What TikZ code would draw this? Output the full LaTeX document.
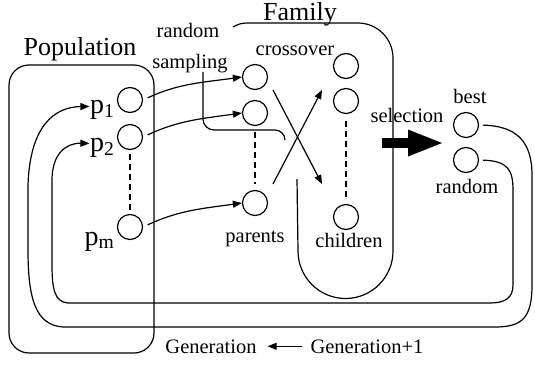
\documentclass[tikz,border=0pt]{standalone}
\usepackage{fontspec}
\setmainfont{Liberation Serif}
\usetikzlibrary{positioning,arrows.meta}

\begin{document}
\begin{tikzpicture}[x=1pt,y=1pt,line width=1.2pt,
    dot/.style={draw,circle,minimum size=25pt,inner sep=0pt},
    biglabel/.style={font=\fontsize{26}{30}\selectfont,inner sep=0pt,anchor=base},
    smalllabel/.style={font=\fontsize{20.5}{24}\selectfont,inner sep=0pt,anchor=base},
    plabel/.style={font=\fontsize{28}{32}\selectfont,inner sep=0pt,anchor=base east},
    tip/.style={-{Triangle[length=9pt,width=7pt]}},
    dashline/.style={dash pattern=on 6pt off 4pt}]
    \useasboundingbox (0,0) rectangle (535,-364);

    % the population
    \draw[rounded corners=20pt] (9,-65) rectangle (154,-353);
    \node[biglabel] (poptitle) at (80,-55) {Population};

    % all the individuals
    \foreach \n/\x/\y in {c1/130/100,c2/130/137,cm/130/227,%
                          pa1/255/77,pa2/255/113,pa3/255/203,%
                          ch1/346/66,ch2/346/101,ch3/346/217,%
                          bestc/466/125,rndc/466/160} {
      \node[dot] (\n) at (\x,-\y) {};
    };

    \node[plabel] (p1) at ([xshift=-2pt,yshift=-13pt]c1.west) {p\textsubscript{1}};
    \node[plabel] (p2) at ([xshift=-2pt,yshift=-14pt]c2.west) {p\textsubscript{2}};
    \node[plabel] (pm) at ([xshift=-2pt,yshift=-18pt]cm.west) {p\textsubscript{m}};

    % the family, drawn in two pieces
    \node[biglabel] (famtitle) at (300,-20.5) {Family};
    \draw (203,-72) -- (203,-119) arc[start angle=180,end angle=270,radius=11]
      -- (275,-130) arc[start angle=90,end angle=0,radius=10];
    \draw (297,-179) -- (298,-251) arc[start angle=180,end angle=360,radius=47.5]
      -- (393,-58) arc[start angle=0,end angle=90,radius=35]
      -- (248,-23) to[out=180,in=30] (233,-27);

    \node[smalllabel] (rs1) at (188,-37) {random};
    \node[smalllabel] (rs2) at (190,-68) {sampling};
    \node[smalllabel] (xover) at (295,-55) {crossover};
    \node[smalllabel] (parents) at (255,-242) {parents};
    \node[smalllabel] (children) at (349,-247) {children};
    \node[smalllabel] (selection) at (407,-122) {selection};
    \node[smalllabel] (best) at (470,-103) {best};
    \node[smalllabel] (random) at (467,-193) {random};
    \node[smalllabel] (gen) at (211,-353) {Generation};
    \node[smalllabel] (gennext) at (367,-353) {Generation+1};

    % dashed columns
    \draw[dashline,shorten <=4pt,shorten >=3pt] (c2.south) -- (cm.north);
    \draw[dashline,shorten <=6pt,shorten >=6pt] (pa2.south) -- (pa3.north);
    \draw[dashline,shorten <=7pt,shorten >=6pt] (ch2.south) -- (ch3.north);

    % random sampling
    \draw[tip,shorten <=5pt] (c1.east) to[out=25,in=188] (pa1.west);
    \draw[tip,shorten <=5pt] (c2.east) to[out=25,in=188] (pa2.west);
    \draw[tip,shorten <=5pt] (cm.east) to[out=25,in=188] (pa3.west);

    % crossover
    \coordinate (xtl) at (273,-90);
    \coordinate (xtr) at (322,-90);
    \coordinate (xbl) at (273,-184);
    \coordinate (xbr) at (322,-184);
    \draw[tip] (xtl) -- (xbr);
    \draw[tip] (xbl) -- (xtr);

    % selection
    \coordinate (selA) at (382,-143);
    \coordinate (selB) at (442,-143);
    \draw[line width=10pt,-{Triangle[length=34pt,width=27pt,line width=0pt]}] (selA) -- (selB);

    % back to the population
    \draw[tip,shorten <=4pt] (bestc.east) .. controls (515,-126) and (532,-140) .. (532,-175)
      -- (532,-285) .. controls (532,-318) and (522,-327) .. (495,-327)
      -- (63,-327) .. controls (36,-325) and (28,-300) .. (28,-250)
      -- (28,-185) .. controls (30,-125) and (55,-107) .. ([yshift=3pt]p1.west);
    \draw[tip,shorten <=4pt] (rndc.east) .. controls (508,-161) and (513,-170) .. (513,-190)
      -- (513,-285) .. controls (513,-298) and (505,-303) .. (490,-303)
      -- (68,-303) .. controls (55,-302) and (52,-290) .. (52,-265)
      -- (52,-180) .. controls (52,-155) and (65,-143) .. ([yshift=4pt]p2.west);

    \draw[tip,shorten <=7.5pt,shorten >=10.5pt] (gennext.west) -- (gen.east);
\end{tikzpicture}
\end{document}
